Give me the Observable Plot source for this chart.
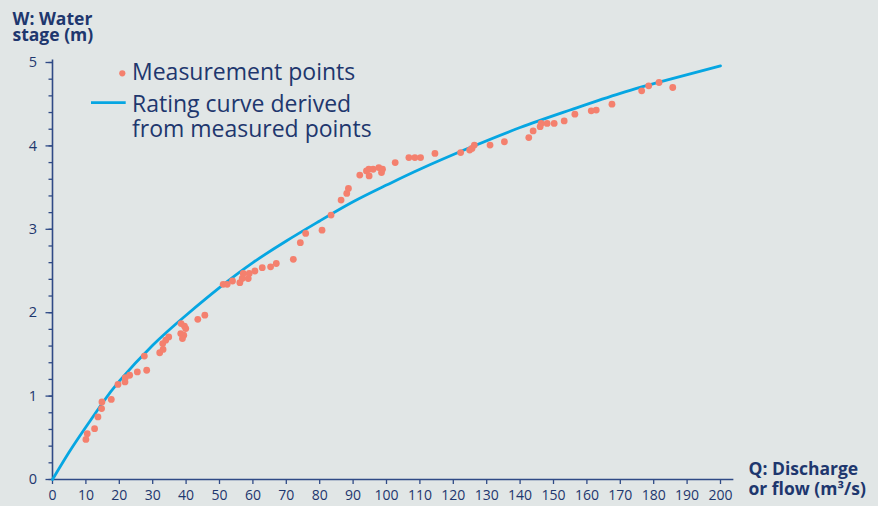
<!DOCTYPE html>
<html><head><meta charset="utf-8">
<script src="https://cdn.jsdelivr.net/npm/d3@7"></script>
<script src="https://cdn.jsdelivr.net/npm/@observablehq/plot@0.6"></script>
<style>
body{margin:0;background:#e1e6e6;}
#wrap{position:relative;width:878px;height:506px;overflow:hidden;}
#legend{position:absolute;left:0;top:0;pointer-events:none;}
</style></head><body><div id="wrap"></div>
<script>
// Measurement points: discharge Q (m³/s) and water stage W (m)
const flowQ = [10.0,10.4,12.6,13.6,14.7,14.8,17.6,19.6,21.7,21.8,23.1,25.4,28.2,27.5,32.1,33.1,33.0,33.9,34.8,
  38.5,39.5,39.9,38.4,39.3,38.9,43.5,45.6,
  51.1,52.3,53.9,56.1,56.8,57.1,58.6,58.9,60.6,62.8,65.3,67.0,72.1,74.2,75.8,80.7,83.4,86.4,88.1,88.6,
  92.0,94.0,94.8,94.7,96.0,97.7,98.5,98.8,102.6,106.7,108.5,110.2,114.5,
  122.2,124.9,125.6,126.3,131.0,135.3,142.6,143.9,146.0,146.3,148.1,150.2,153.2,156.4,161.3,162.8,167.5,
  176.4,178.5,181.6,185.7];
const stageW = [0.48,0.55,0.61,0.75,0.85,0.93,0.96,1.14,1.17,1.22,1.25,1.29,1.31,1.48,1.52,1.56,1.63,1.67,1.71,
  1.87,1.84,1.81,1.75,1.73,1.69,1.92,1.97,
  2.34,2.34,2.38,2.36,2.41,2.47,2.41,2.47,2.50,2.54,2.55,2.59,2.64,2.84,2.95,2.99,3.17,3.35,3.43,3.49,
  3.65,3.70,3.64,3.72,3.72,3.74,3.68,3.72,3.80,3.86,3.86,3.86,3.91,
  3.92,3.95,3.97,4.01,4.01,4.05,4.10,4.18,4.23,4.27,4.27,4.27,4.30,4.38,4.42,4.43,4.50,
  4.66,4.72,4.76,4.70];
// Rating curve
const curveQ = [0,5,10,15,20,30,40,50,60,70,80,90,100,110,125,140,155,170,185,200];
const curveW = [0,0.33,0.63,0.92,1.18,1.61,1.97,2.30,2.60,2.86,3.10,3.33,3.53,3.72,3.98,4.22,4.43,4.63,4.80,4.96];
// Ticks
const xTicks = [0,10,20,30,40,50,60,70,80,90,100,110,120,130,140,150,160,170,180,190,200];
const yTicks = [0,1,2,3,4,5];
const yMinorTicks = [0,0.2,0.4,0.6,0.8,1,1.2,1.4,1.6,1.8,2,2.2,2.4,2.6,2.8,3,3.2,3.4,3.6,3.8,4,4.2,4.4,4.6,4.8,5];
const yTitle = "W: Water\nstage (m)";
const xTitle = "Q: Discharge\nor flow (m³/s)";
const legendPoints = "Measurement points";
const legendCurve = ["Rating curve derived", "from measured points"];

const points = flowQ.map((q, i) => ({Q: q, W: stageW[i]}));
const curve = curveQ.map((q, i) => ({Q: q, W: curveW[i]}));

const navy = "#1e376e";
const axisCol = "#2f4a86";
const dotCol = "#f4806e";
const lineCol = "#06a6e2";

const plot = Plot.plot({
  width: 878, height: 506,
  marginLeft: 52, marginRight: 158, marginTop: 62, marginBottom: 27,
  x: {domain: [0, 200], label: null},
  y: {domain: [0, 5], label: null},
  style: {background: "#e1e6e6", color: navy, fontFamily: "'Open Sans', sans-serif", fontSize: "14px"},
  marks: [
    Plot.axisY(yMinorTicks, {tickSize: 3.5, text: null, label: null, stroke: axisCol, strokeWidth: 1.3}),
    Plot.axisY(yTicks, {tickSize: 6.5, tickPadding: 9, tickFormat: d => String(d), label: null,
      stroke: axisCol, strokeWidth: 1.3, fill: navy, fontSize: 14.5}),
    Plot.axisX(xTicks, {tickSize: 5, tickPadding: 6, tickFormat: d => String(d), label: null,
      stroke: axisCol, strokeWidth: 1.3, fill: navy, fontSize: 14}),
    Plot.ruleX([0], {y1: 0, y2: 5.03, stroke: axisCol, strokeWidth: 1.6}),
    Plot.ruleY([0], {x1: 0, x2: 204, stroke: axisCol, strokeWidth: 1.6}),
    Plot.line(curve, {x: "Q", y: "W", stroke: lineCol, strokeWidth: 2.8, curve: "natural"}),
    Plot.dot(points, {x: "Q", y: "W", r: 3.4, fill: dotCol, stroke: null}),
    Plot.text([yTitle], {text: d => d, frameAnchor: "top-left", dx: -40, dy: -21.5, textAnchor: "start",
      lineAnchor: "bottom", fontWeight: "bold", fontSize: 17.5, lineHeight: 15.8 / 17.5, fill: navy}),
    Plot.text([xTitle], {text: d => d, frameAnchor: "bottom-right", dx: 28, dy: 15, textAnchor: "start",
      lineAnchor: "bottom", fontWeight: "bold", fontSize: 17.5, lineHeight: 20 / 17.5, fill: navy})
  ]
});
const wrap = document.getElementById("wrap");
wrap.appendChild(plot);

// Legend overlay
const leg = d3.select(wrap).append("svg").attr("id", "legend").attr("width", 420).attr("height", 150)
  .style("font-family", "'Open Sans', sans-serif");
leg.append("circle").attr("cx", 122.3).attr("cy", 73.3).attr("r", 3.1).attr("fill", dotCol);
leg.append("text").attr("x", 132).attr("y", 80.3).attr("font-size", 23).attr("fill", navy).text(legendPoints);
leg.append("line").attr("x1", 91).attr("x2", 125.7).attr("y1", 102.7).attr("y2", 102.7)
  .attr("stroke", lineCol).attr("stroke-width", 2.8);
legendCurve.forEach((t, i) => {
  leg.append("text").attr("x", 132).attr("y", 112.2 + i * 24.6).attr("font-size", 23).attr("fill", navy).text(t);
});
</script></body></html>
